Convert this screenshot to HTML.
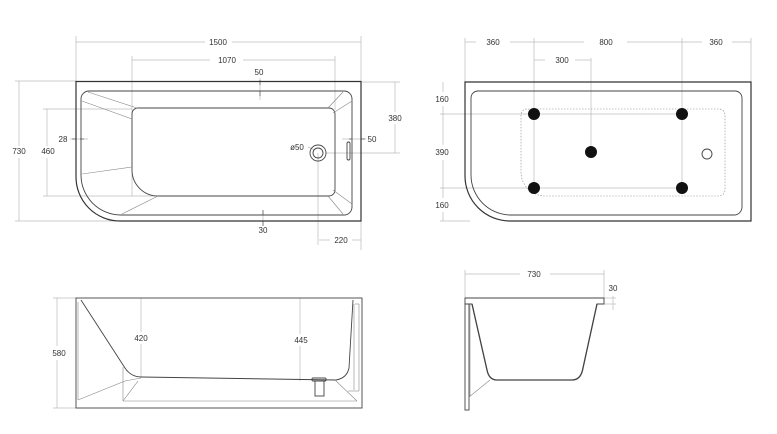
<!DOCTYPE html><html><head><style>body{margin:0;background:#fff}svg{display:block}text{font-family:"Liberation Sans",sans-serif;font-size:8px;fill:#333;text-anchor:middle}</style></head><body>
<svg width="777" height="434" viewBox="0 0 777 434" xmlns="http://www.w3.org/2000/svg">
<g fill="none" stroke="#bbb" stroke-width="0.7">
<line x1="76" y1="42" x2="205" y2="42"/><line x1="232" y1="42" x2="361" y2="42"/>
<line x1="76" y1="36" x2="76" y2="81"/><line x1="361" y1="36" x2="361" y2="250"/>
<line x1="132" y1="60" x2="210" y2="60"/><line x1="243" y1="60" x2="335" y2="60"/>
<line x1="132" y1="56" x2="132" y2="196"/><line x1="335" y1="56" x2="335" y2="110"/>
<line x1="19" y1="81" x2="19" y2="146"/><line x1="19" y1="158" x2="19" y2="221"/>
<line x1="15" y1="81" x2="76" y2="81"/><line x1="15" y1="221" x2="120" y2="221"/>
<line x1="47" y1="109" x2="47" y2="146"/><line x1="47" y1="158" x2="47" y2="196"/>
<line x1="43" y1="109" x2="132" y2="109"/><line x1="43" y1="196" x2="155" y2="196"/>
<line x1="395" y1="82" x2="395" y2="112"/><line x1="395" y1="124" x2="395" y2="153"/>
<line x1="361" y1="82" x2="400" y2="82"/><line x1="326" y1="153" x2="400" y2="153"/>
<line x1="318" y1="153" x2="318" y2="245"/><line x1="319" y1="240" x2="330" y2="240"/><line x1="352" y1="240" x2="361" y2="240"/>
<line x1="308" y1="147" x2="315" y2="150"/>
<line x1="465" y1="42" x2="476" y2="42"/><line x1="510" y1="42" x2="584" y2="42"/><line x1="627" y1="42" x2="702" y2="42"/><line x1="732" y1="42" x2="751" y2="42"/>
<line x1="465" y1="38" x2="465" y2="82"/><line x1="751" y1="38" x2="751" y2="82"/>
<line x1="534" y1="38" x2="534" y2="188"/><line x1="682" y1="38" x2="682" y2="188"/>
<line x1="534" y1="60" x2="545" y2="60"/><line x1="575" y1="60" x2="591" y2="60"/><line x1="591" y1="58" x2="591" y2="152"/>
<line x1="443" y1="82" x2="443" y2="92"/><line x1="443" y1="106" x2="443" y2="145"/><line x1="443" y1="160" x2="443" y2="198"/><line x1="443" y1="212" x2="443" y2="221"/>
<line x1="440" y1="114" x2="682" y2="114"/><line x1="440" y1="188" x2="682" y2="188"/><line x1="440" y1="221" x2="470" y2="221"/>
<line x1="57" y1="298" x2="57" y2="346"/><line x1="57" y1="360" x2="57" y2="408"/><line x1="53" y1="298" x2="76" y2="298"/><line x1="53" y1="408" x2="76" y2="408"/>
<line x1="141" y1="298" x2="141" y2="332"/><line x1="141" y1="344" x2="141" y2="378"/>
<line x1="300" y1="298" x2="300" y2="334"/><line x1="300" y1="346" x2="300" y2="381"/>
<line x1="465" y1="274" x2="520" y2="274"/><line x1="550" y1="274" x2="604" y2="274"/><line x1="465" y1="270" x2="465" y2="298"/><line x1="604" y1="270" x2="604" y2="298"/>
<line x1="604" y1="298" x2="616" y2="298"/><line x1="604" y1="304" x2="616" y2="304"/><line x1="613" y1="296" x2="613" y2="310"/>
<line x1="260" y1="78" x2="260" y2="100"/><line x1="263" y1="210" x2="263" y2="226"/>
<line x1="70" y1="139" x2="88" y2="139"/><line x1="342" y1="139" x2="366" y2="139"/>
</g>
<g fill="none" stroke="#555" stroke-width="0.7">
<line x1="260" y1="80" x2="260" y2="85"/><line x1="260" y1="91" x2="260" y2="96"/>
<line x1="263" y1="210" x2="263" y2="215"/><line x1="263" y1="221" x2="263" y2="226"/>
<line x1="72" y1="139" x2="76" y2="139"/><line x1="80" y1="139" x2="84" y2="139"/>
<line x1="349" y1="139" x2="352" y2="139"/><line x1="361" y1="139" x2="365" y2="139"/>
</g>
<g fill="none" stroke="#333" stroke-width="1.2">
<path d="M76 81.5H361V221H120A44 44 0 0 1 76 177Z"/>
<path d="M470 82H751V221H510A45 45 0 0 1 465 176V82Z"/>
</g>
<g fill="none" stroke="#444" stroke-width="0.9">
<path d="M89 91H344A8 8 0 0 1 352 99V207A8 8 0 0 1 344 215H121A40 40 0 0 1 81 175V99A8 8 0 0 1 89 91Z"/>
<path d="M139 108H329A6 6 0 0 1 335 114V190A6 6 0 0 1 329 196H158A26 26 0 0 1 132 170V114A6 6 0 0 1 139 108Z"/>
<path d="M478 91H735A7 7 0 0 1 742 98V207A8 8 0 0 1 734 215H511A40 40 0 0 1 471 175V98A7 7 0 0 1 478 91Z"/>
<circle cx="318" cy="153" r="8"/><circle cx="318" cy="153" r="5"/>
<rect x="347" y="142" width="3" height="18" rx="1.5"/>
<circle cx="707" cy="154" r="5"/>
</g>
<g stroke="#888" stroke-width="0.6" fill="none">
<line x1="82" y1="101" x2="132" y2="119"/><line x1="88" y1="92" x2="137" y2="108"/>
<line x1="82" y1="174" x2="132" y2="167"/><line x1="122" y1="214" x2="158" y2="196"/>
<line x1="328" y1="108" x2="343" y2="92"/><line x1="333" y1="113" x2="352" y2="101"/>
<line x1="328" y1="196" x2="343" y2="214"/><line x1="333" y1="190" x2="352" y2="204"/>
<path d="M528 109H719A6 6 0 0 1 725 115V190A6 6 0 0 1 719 196H545A24 24 0 0 1 521 172V115A6 6 0 0 1 528 109Z" stroke-dasharray="1.5 1.5"/>
</g>
<g fill="#111"><circle cx="534" cy="114" r="6"/><circle cx="682" cy="114" r="6"/><circle cx="591" cy="152" r="6"/><circle cx="534" cy="188" r="6"/><circle cx="682" cy="188" r="6"/></g>
<g fill="none" stroke="#444" stroke-width="0.9">
<rect x="76" y="298" width="286" height="110"/>
<path d="M81 300L125 368Q131 377 141 377L336 380Q347 378 349 368L353 300"/>
<rect x="312" y="378" width="14" height="3" rx="1"/><rect x="315" y="381" width="9" height="15"/>
</g>
<g fill="none" stroke="#888" stroke-width="0.6">
<line x1="78" y1="302" x2="78" y2="400"/><line x1="78" y1="400" x2="125" y2="381"/><line x1="125" y1="381" x2="141" y2="378"/>
<line x1="123" y1="367" x2="123" y2="401"/><line x1="123" y1="401" x2="357" y2="401"/>
<line x1="123" y1="401" x2="138" y2="381"/><line x1="357" y1="401" x2="335" y2="380"/>
<line x1="355" y1="304" x2="359" y2="304"/><line x1="359" y1="304" x2="359" y2="391"/><line x1="348" y1="391" x2="359" y2="391"/><line x1="354" y1="304" x2="354" y2="390"/>
</g>
<g fill="none" stroke="#444" stroke-width="0.9">
<path d="M465 298H604V304H597L583 368Q581 380 572 380H497Q489 380 487 370L472 304H465Z"/>
<path d="M472 304L487 370Q489 380 497 380H572Q581 380 583 368L597 304" stroke-width="1.3"/>
<rect x="465" y="304" width="4" height="106"/>
</g>
<g stroke="#888" stroke-width="0.6" fill="none"><line x1="470" y1="304" x2="470" y2="397"/><line x1="469" y1="397" x2="490" y2="380"/></g>
<text x="218" y="45">1500</text><text x="227" y="63">1070</text><text x="259" y="75">50</text>
<text x="19" y="154">730</text><text x="48" y="154">460</text><text x="63" y="142">28</text>
<text x="395" y="121">380</text><text x="372" y="142">50</text><text x="297" y="150">ø50</text>
<text x="263" y="233">30</text><text x="341" y="243">220</text>
<text x="493" y="45">360</text><text x="606" y="45">800</text><text x="716" y="45">360</text><text x="562" y="63">300</text>
<text x="442" y="102">160</text><text x="442" y="155">390</text><text x="442" y="208">160</text>
<text x="59" y="356">580</text><text x="141" y="341">420</text><text x="301" y="343">445</text>
<text x="534" y="277">730</text><text x="613" y="291">30</text>
</svg></body></html>
